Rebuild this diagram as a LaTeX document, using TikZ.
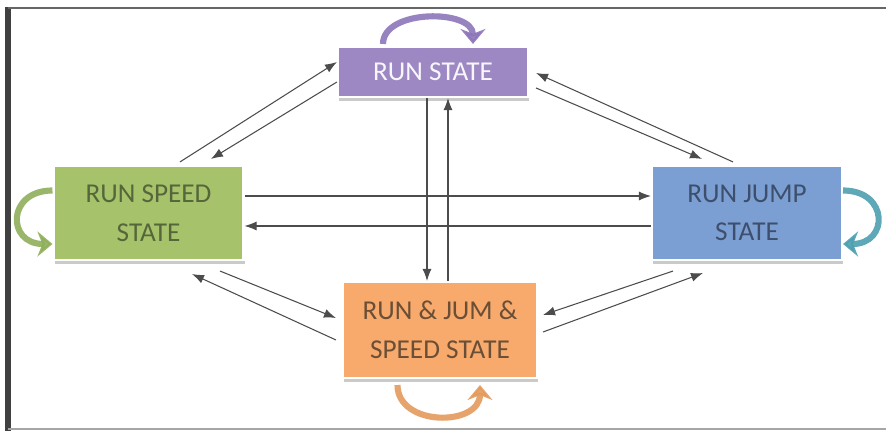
\documentclass[tikz,border=0pt]{standalone}
\usepackage{fontspec}
\setmainfont{Carlito}
\usetikzlibrary{arrows.meta,shadows}

\definecolor{runfill}{HTML}{9D88C4}
\definecolor{runloop}{HTML}{8C75B8}
\definecolor{speedfill}{HTML}{A6C36C}
\definecolor{speedtext}{HTML}{55663A}
\definecolor{speedloop}{HTML}{8FAE5A}
\definecolor{jumpfill}{HTML}{7C9FD3}
\definecolor{jumptext}{HTML}{3D4F6C}
\definecolor{jumploop}{HTML}{4C9FB0}
\definecolor{bothfill}{HTML}{F8A96C}
\definecolor{bothtext}{HTML}{6A4E36}
\definecolor{bothloop}{HTML}{E39A5C}

\begin{document}
\begin{tikzpicture}[x=0.02cm,y=0.02cm,
		state/.style={rectangle,draw=white,line width=1.2pt,minimum width=3.8cm,
			align=center,font=\fontsize{15.5}{22}\selectfont,
			drop shadow={shadow xshift=0.6pt,shadow yshift=-2.5pt,fill=black!35,opacity=0.6}},
		link/.style={draw=black!70,line width=0.6pt,-{Latex[length=2.4mm,width=1.8mm]}},
		selfloop/.style={line width=3.5pt,opacity=0.9,-{Stealth[length=3mm,width=5mm]}}]
		\useasboundingbox (0,0) rectangle (886,431);
		% frame
		\fill[black!75] (5,0) rectangle (11,424);
		\draw[black!60,line width=1.2pt] (8,423) -- (886,423);
		\draw[black!35,line width=0.8pt] (8,2) -- (886,2);
		% states
		\node[state,fill=runfill,text=white!92!runfill,minimum height=1cm] (run) at (433,359) {RUN STATE};
		\node[state,fill=speedfill,text=speedtext,minimum height=1.88cm] (speed) at (148.5,218) {RUN SPEED\\STATE};
		\node[state,fill=jumpfill,text=jumptext,minimum height=1.88cm] (jump) at (747,218) {RUN JUMP\\STATE};
		\node[state,fill=bothfill,text=bothtext,minimum width=3.88cm,minimum height=1.92cm] (both) at (440,101) {RUN \& JUM \&\\SPEED STATE};
		% transitions
		\draw[link] ([xshift=0.63cm,yshift=0.06cm]speed.north) -- ([yshift=0.2cm]run.west);
		\draw[link] ([yshift=-0.2cm]run.west) -- ([xshift=1.25cm,yshift=0.12cm]speed.north);
		\draw[link] ([xshift=-0.28cm,yshift=0.06cm]jump.north) -- ([xshift=0.14cm,yshift=-0.02cm]run.east);
		\draw[link] ([xshift=0.14cm,yshift=-0.32cm]run.east) -- ([xshift=-0.9cm,yshift=0.12cm]jump.north);
		\draw[link] ([yshift=0.34cm]speed.east) -- ([yshift=0.34cm]jump.west);
		\draw[link] ([yshift=-0.26cm]jump.west) -- ([yshift=-0.26cm]speed.east);
		\draw[link] ([xshift=-0.12cm]run.south) -- ([xshift=-0.12cm]run.south |- both.north);
		\draw[link] ([xshift=0.3cm]run.south |- both.north) -- ([xshift=0.3cm]run.south);
		\draw[link] ([xshift=1.43cm,yshift=-0.2cm]speed.south) -- ([xshift=-0.12cm,yshift=0.24cm]both.west);
		\draw[link] ([xshift=-0.12cm,yshift=-0.2cm]both.west) -- ([xshift=0.87cm,yshift=-0.26cm]speed.south);
		\draw[link] ([xshift=-1.48cm,yshift=-0.2cm]jump.south) -- ([xshift=0.1cm,yshift=0.3cm]both.east);
		\draw[link] ([xshift=0.1cm,yshift=-0.04cm]both.east) -- ([xshift=-0.88cm,yshift=-0.24cm]jump.south);
		% self loops
		\draw[selfloop,runloop] ([xshift=-1cm,yshift=0.04cm]run.north) to[out=90,in=90,looseness=1] ([xshift=0.8cm,yshift=0.04cm]run.north);
		\draw[selfloop,speedloop] ([yshift=0.45cm]speed.west) to[out=180,in=180,looseness=2.2] ([yshift=-0.62cm]speed.west);
		\draw[selfloop,jumploop] ([yshift=0.45cm]jump.east) to[out=0,in=0,looseness=2.2] ([yshift=-0.62cm]jump.east);
		\draw[selfloop,bothloop] ([xshift=-0.85cm,yshift=-0.12cm]both.south) to[out=-90,in=-90,looseness=1.3] ([xshift=0.8cm,yshift=-0.12cm]both.south);
\end{tikzpicture}
\end{document}
